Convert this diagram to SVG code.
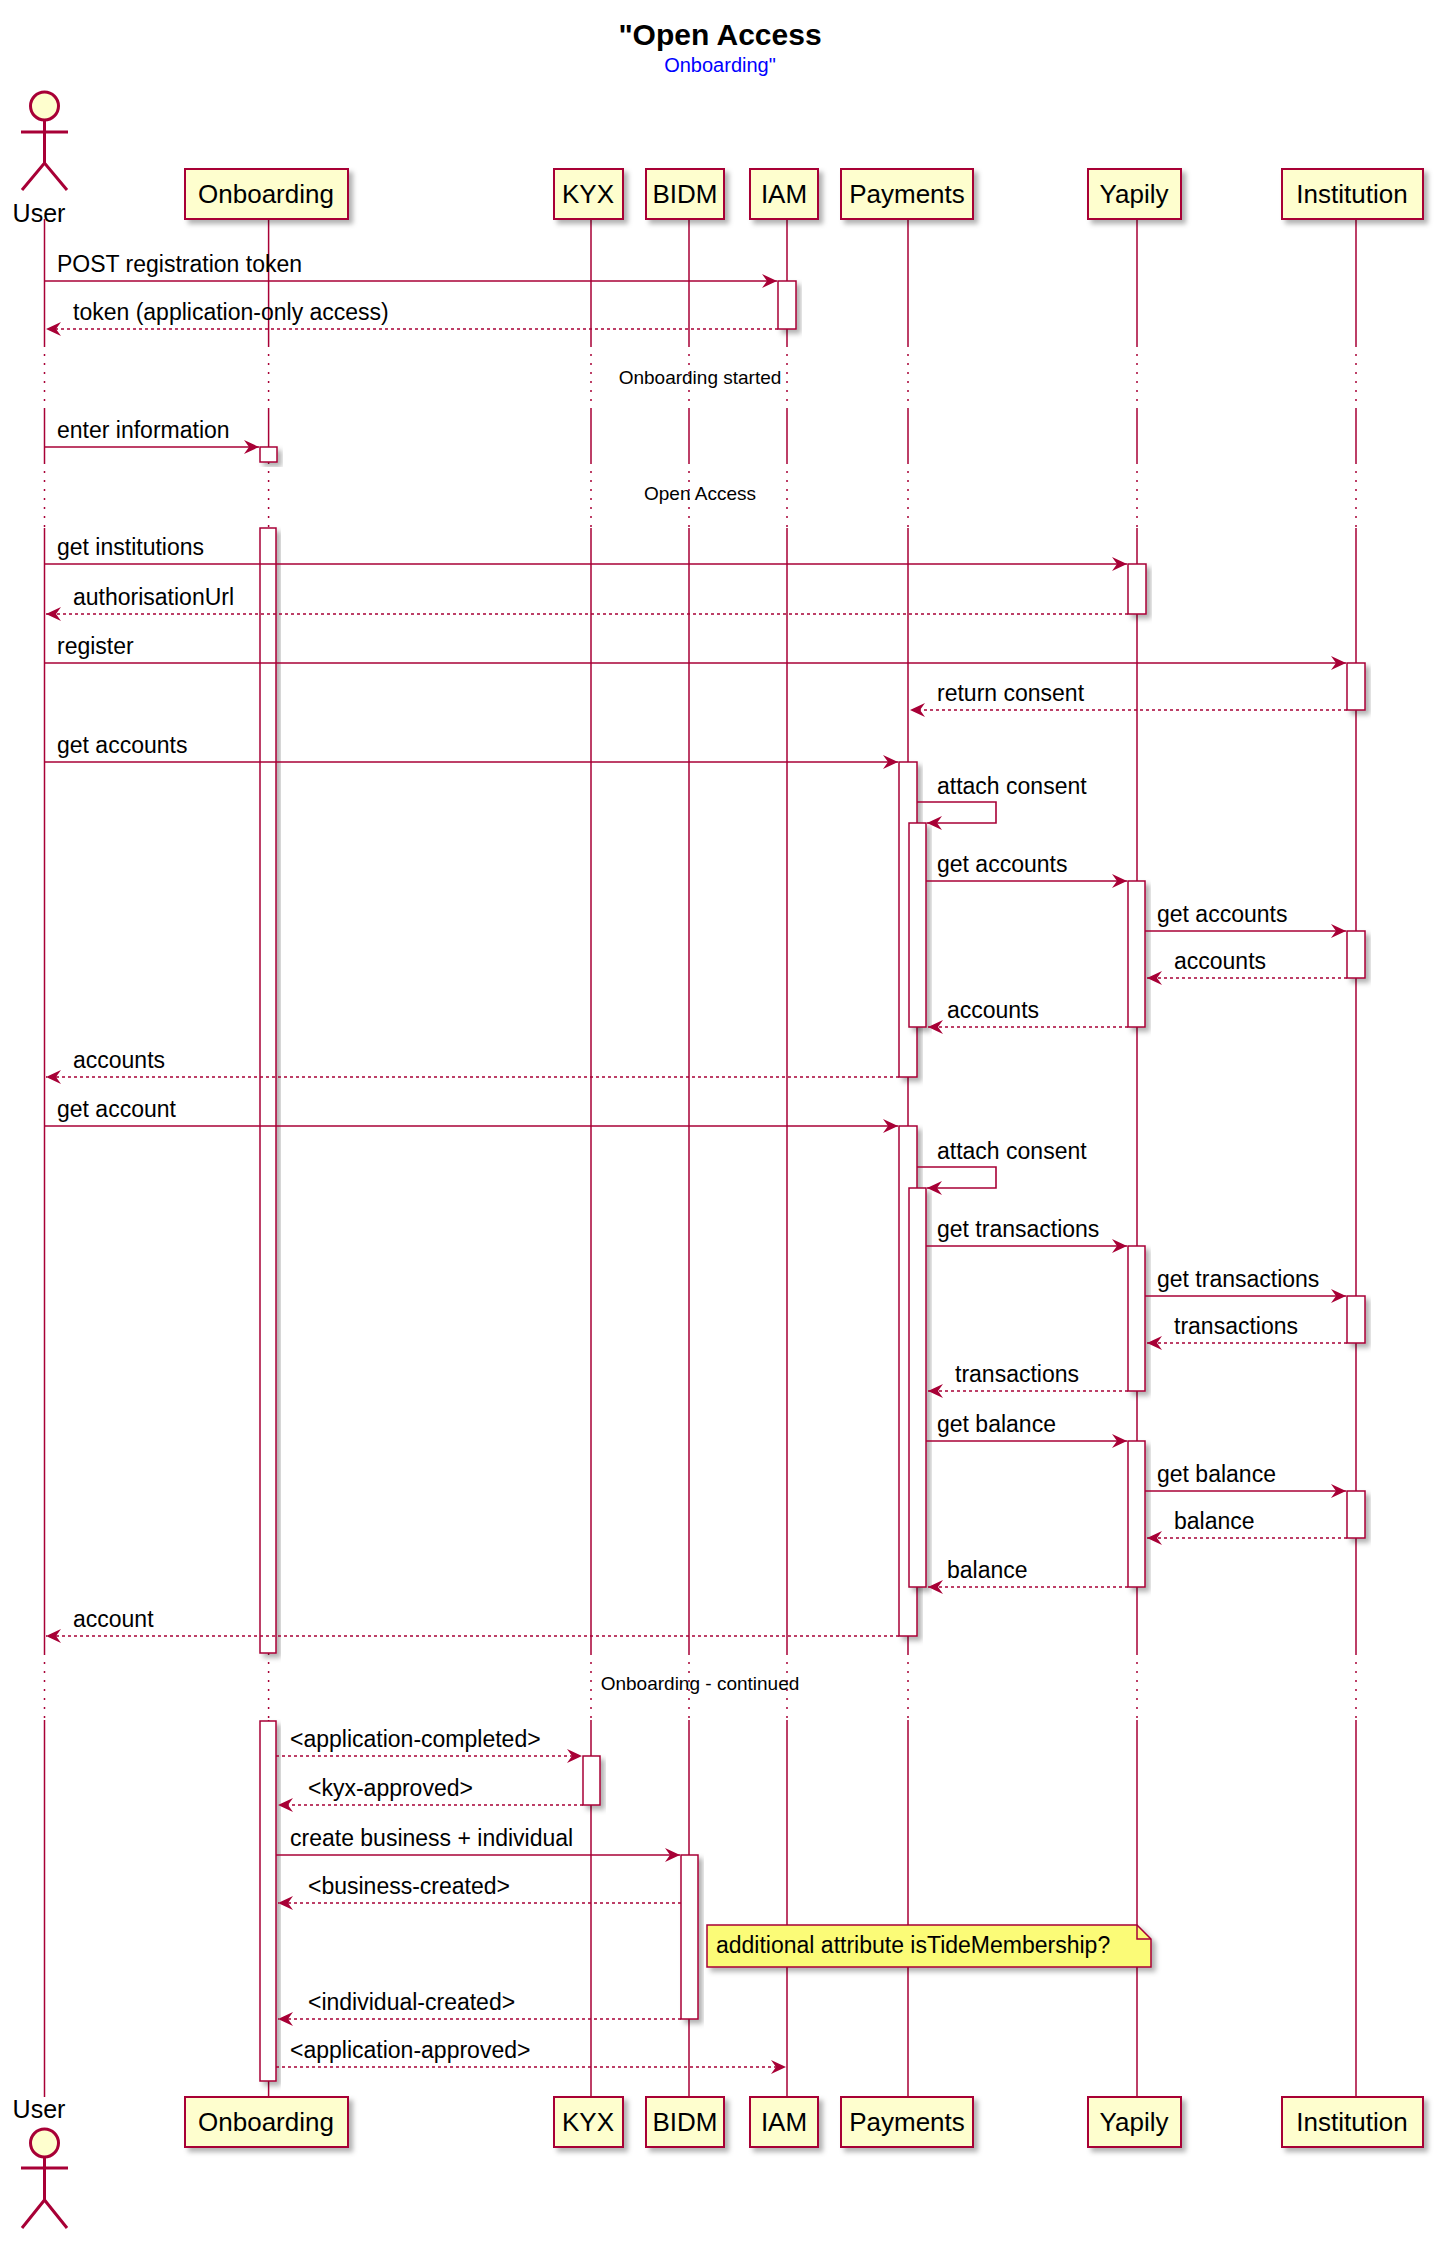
<svg xmlns="http://www.w3.org/2000/svg" width="1440" height="2242" viewBox="0 0 1440 2242">
<style>
text{font-family:"Liberation Sans",Arial,sans-serif;fill:#000}
.p rect{fill:#FEFECE;stroke:#A80036;stroke-width:2;filter:url(#sh)}
.p text{font-size:26px;text-anchor:middle}
.ll{stroke:#A80036;stroke-width:1.5;fill:none}
.dl{stroke:#A80036;stroke-width:1.5;stroke-dasharray:2,7;fill:none}
.act{fill:#fff;stroke:#A80036;stroke-width:1.5;filter:url(#sh)}
.m{stroke:#A80036;stroke-width:1.6;fill:none;marker-end:url(#ah)}
.r{stroke:#A80036;stroke-width:1.6;fill:none;stroke-dasharray:3,3;marker-end:url(#ah)}
.lb{font-size:23px}
.dv{font-size:19px;text-anchor:middle}
.actor{stroke:#A80036;stroke-width:3;fill:none}
</style>
<defs>
<filter id="sh" x="-20%" y="-20%" width="150%" height="150%"><feDropShadow dx="4" dy="4" stdDeviation="2.5" flood-color="#000" flood-opacity="0.3"/></filter>
<marker id="ah" markerUnits="userSpaceOnUse" markerWidth="20" markerHeight="16" viewBox="-16 -8 18 16" refX="0" refY="0" orient="auto"><path d="M0,0 L-15,-7 L-10,0 L-15,7 Z" fill="#A80036"/></marker>
</defs>
<rect width="1440" height="2242" fill="#fff"/>
<text x="720" y="45" font-size="30" font-weight="bold" text-anchor="middle">"Open Access</text>
<text x="720" y="72" font-size="20" fill="#0000FF" style="fill:#0000FF" text-anchor="middle">Onboarding"</text>

<g id="lifelines">
<path class="ll" d="M44.5,219V345M44.5,410V462M44.5,528V1653M44.5,1720V2097"/>
<path class="dl" d="M44.5,345V410M44.5,462V528M44.5,1653V1720"/>
<path class="ll" d="M268.6,219V345M268.6,410V462M268.6,528V1653M268.6,1720V2097"/>
<path class="dl" d="M268.6,345V410M268.6,462V528M268.6,1653V1720"/>
<path class="ll" d="M591,219V345M591,410V462M591,528V1653M591,1720V2097"/>
<path class="dl" d="M591,345V410M591,462V528M591,1653V1720"/>
<path class="ll" d="M689,219V345M689,410V462M689,528V1653M689,1720V2097"/>
<path class="dl" d="M689,345V410M689,462V528M689,1653V1720"/>
<path class="ll" d="M787,219V345M787,410V462M787,528V1653M787,1720V2097"/>
<path class="dl" d="M787,345V410M787,462V528M787,1653V1720"/>
<path class="ll" d="M908,219V345M908,410V462M908,528V1653M908,1720V2097"/>
<path class="dl" d="M908,345V410M908,462V528M908,1653V1720"/>
<path class="ll" d="M1137,219V345M1137,410V462M1137,528V1653M1137,1720V2097"/>
<path class="dl" d="M1137,345V410M1137,462V528M1137,1653V1720"/>
<path class="ll" d="M1356,219V345M1356,410V462M1356,528V1653M1356,1720V2097"/>
<path class="dl" d="M1356,345V410M1356,462V528M1356,1653V1720"/>
</g>

<g id="user">
<circle class="actor" cx="44.5" cy="106" r="14" fill="#FEFECE" style="fill:#FEFECE"/>
<path class="actor" d="M44.5,120V163M21,132H68M22,190L44.5,163L67,190"/>
<text x="39" y="222" font-size="25" text-anchor="middle">User</text>
<text x="39" y="2118" font-size="25" text-anchor="middle">User</text>
<circle class="actor" cx="44.5" cy="2143" r="14" fill="#FEFECE" style="fill:#FEFECE"/>
<path class="actor" d="M44.5,2157V2200M21,2168H68M22,2228L44.5,2200L67,2228"/>
</g>
<g id="onboarding" class="p"><rect x="185" y="169" width="163" height="50"/><text x="266" y="203">Onboarding</text><rect x="185" y="2097" width="163" height="50"/><text x="266" y="2131">Onboarding</text></g>
<g id="kyx" class="p"><rect x="554" y="169" width="69" height="50"/><text x="588" y="203">KYX</text><rect x="554" y="2097" width="69" height="50"/><text x="588" y="2131">KYX</text></g>
<g id="bidm" class="p"><rect x="646" y="169" width="78" height="50"/><text x="685" y="203">BIDM</text><rect x="646" y="2097" width="78" height="50"/><text x="685" y="2131">BIDM</text></g>
<g id="iam" class="p"><rect x="750" y="169" width="68" height="50"/><text x="784" y="203">IAM</text><rect x="750" y="2097" width="68" height="50"/><text x="784" y="2131">IAM</text></g>
<g id="payments" class="p"><rect x="841" y="169" width="132" height="50"/><text x="907" y="203">Payments</text><rect x="841" y="2097" width="132" height="50"/><text x="907" y="2131">Payments</text></g>
<g id="yapily" class="p"><rect x="1088" y="169" width="93" height="50"/><text x="1134" y="203">Yapily</text><rect x="1088" y="2097" width="93" height="50"/><text x="1134" y="2131">Yapily</text></g>
<g id="institution" class="p"><rect x="1282" y="169" width="141" height="50"/><text x="1352" y="203">Institution</text><rect x="1282" y="2097" width="141" height="50"/><text x="1352" y="2131">Institution</text></g>

<g id="activations">
<rect class="act" x="778" y="281" width="18" height="48"/>
<rect class="act" x="260" y="447" width="17" height="15"/>
<rect class="act" x="260" y="528" width="16" height="1125"/>
<rect class="act" x="1128" y="564" width="18" height="50"/>
<rect class="act" x="1347" y="663" width="18" height="47"/>
<rect class="act" x="899" y="762" width="18" height="315"/>
<rect class="act" x="909" y="823" width="17" height="204"/>
<rect class="act" x="1128" y="881" width="17" height="146"/>
<rect class="act" x="1347" y="931" width="18" height="47"/>
<rect class="act" x="899" y="1126" width="18" height="510"/>
<rect class="act" x="909" y="1188" width="17" height="399"/>
<rect class="act" x="1128" y="1246" width="17" height="145"/>
<rect class="act" x="1347" y="1296" width="18" height="47"/>
<rect class="act" x="1128" y="1441" width="17" height="146"/>
<rect class="act" x="1347" y="1491" width="18" height="47"/>
<rect class="act" x="260" y="1721" width="16" height="360"/>
<rect class="act" x="583" y="1756" width="17" height="49"/>
<rect class="act" x="681" y="1855" width="17" height="164"/>
</g>

<g id="dividers">
<text class="dv" x="700" y="384">Onboarding started</text>
<text class="dv" x="700" y="500">Open Access</text>
<text class="dv" x="700" y="1690">Onboarding - continued</text>
</g>

<g id="connectors">
<path class="m" d="M44.5,281H777"/><text class="lb" x="57" y="272">POST registration token</text>
<path class="r" d="M778,329H46"/><text class="lb" x="73" y="320">token (application-only access)</text>
<path class="m" d="M44.5,447H259"/><text class="lb" x="57" y="438">enter information</text>
<path class="m" d="M44.5,564H1127"/><text class="lb" x="57" y="555">get institutions</text>
<path class="r" d="M1128,614H46"/><text class="lb" x="73" y="605">authorisationUrl</text>
<path class="m" d="M44.5,663H1346"/><text class="lb" x="57" y="654">register</text>
<path class="r" d="M1347,710H910"/><text class="lb" x="937" y="701">return consent</text>
<path class="m" d="M44.5,762H898"/><text class="lb" x="57" y="753">get accounts</text>
<path class="m" d="M917,802H996V823H927"/><text class="lb" x="937" y="794">attach consent</text>
<path class="m" d="M926,881H1127"/><text class="lb" x="937" y="872">get accounts</text>
<path class="m" d="M1145,931H1346"/><text class="lb" x="1157" y="922">get accounts</text>
<path class="r" d="M1347,978H1147"/><text class="lb" x="1174" y="969">accounts</text>
<path class="r" d="M1128,1027H928"/><text class="lb" x="947" y="1018">accounts</text>
<path class="r" d="M899,1077H46"/><text class="lb" x="73" y="1068">accounts</text>
<path class="m" d="M44.5,1126H898"/><text class="lb" x="57" y="1117">get account</text>
<path class="m" d="M917,1167H996V1188H927"/><text class="lb" x="937" y="1159">attach consent</text>
<path class="m" d="M926,1246H1127"/><text class="lb" x="937" y="1237">get transactions</text>
<path class="m" d="M1145,1296H1346"/><text class="lb" x="1157" y="1287">get transactions</text>
<path class="r" d="M1347,1343H1147"/><text class="lb" x="1174" y="1334">transactions</text>
<path class="r" d="M1128,1391H928"/><text class="lb" x="955" y="1382">transactions</text>
<path class="m" d="M926,1441H1127"/><text class="lb" x="937" y="1432">get balance</text>
<path class="m" d="M1145,1491H1346"/><text class="lb" x="1157" y="1482">get balance</text>
<path class="r" d="M1347,1538H1147"/><text class="lb" x="1174" y="1529">balance</text>
<path class="r" d="M1128,1587H928"/><text class="lb" x="947" y="1578">balance</text>
<path class="r" d="M899,1636H46"/><text class="lb" x="73" y="1627">account</text>
<path class="r" d="M276,1756H582"/><text class="lb" x="290" y="1747">&lt;application-completed&gt;</text>
<path class="r" d="M583,1805H278"/><text class="lb" x="308" y="1796">&lt;kyx-approved&gt;</text>
<path class="m" d="M276,1855H680"/><text class="lb" x="290" y="1846">create business + individual</text>
<path class="r" d="M681,1903H278"/><text class="lb" x="308" y="1894">&lt;business-created&gt;</text>
<path class="r" d="M681,2019H278"/><text class="lb" x="308" y="2010">&lt;individual-created&gt;</text>
<path class="r" d="M276,2067H786"/><text class="lb" x="290" y="2058">&lt;application-approved&gt;</text>
</g>

<g id="note">
<path d="M707,1925H1137L1151,1939V1967H707Z" fill="#FBFB77" stroke="#A80036" stroke-width="1.5" filter="url(#sh)"/>
<path d="M1137,1925V1939H1151" fill="none" stroke="#A80036" stroke-width="1.5"/>
<text class="lb" x="716" y="1953">additional attribute isTideMembership?</text>
</g>
</svg>
